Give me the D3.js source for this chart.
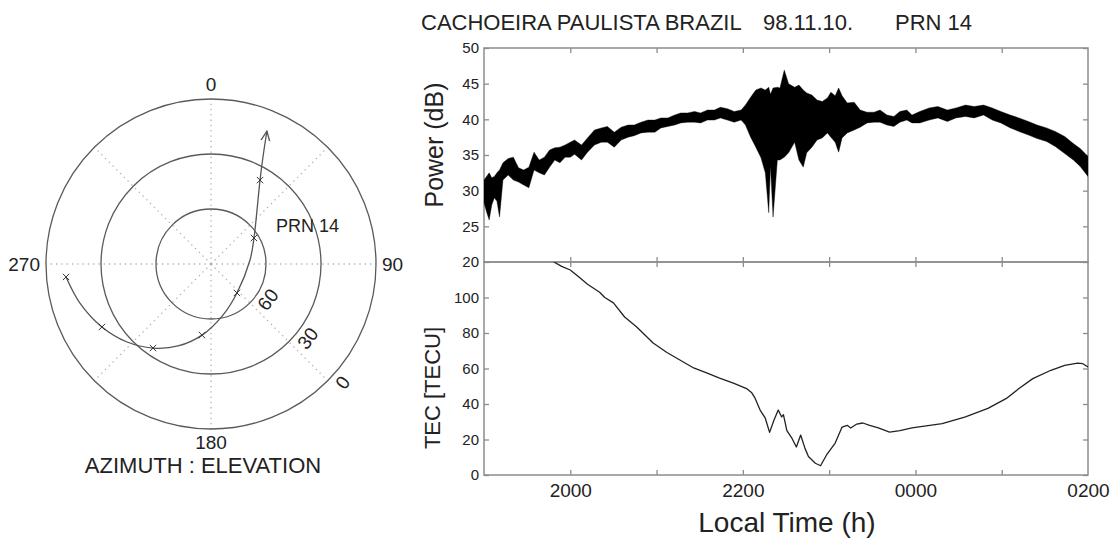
<!DOCTYPE html>
<html>
<head>
<meta charset="utf-8">
<script src="https://cdn.jsdelivr.net/npm/d3@7"></script>
<style>
  body { margin: 0; background: #fff; }
  svg { display: block; font-family: "Liberation Sans", Arial, sans-serif; }
</style>
</head>
<body>
<svg id="chart" width="1110" height="541"></svg>
<script>
// ---- sky plot (azimuth / elevation, degrees) ----
const trackAz = [264.9, 253.4, 240.0, 227.1, 214.6, 201.9, 187.2, 166.8, 138.1, 84.1, 58.8, 30.3, 25.9, 22.8];
const trackEl = [10.6, 15.4, 21.3, 27.5, 34.3, 41.8, 50.9, 61.4, 68.8, 68.6, 62.6, 37.0, 25.1, 11.3];
const markAz = [264.9, 240.0, 214.6, 187.2, 138.1, 58.8, 30.3];
const markEl = [10.6, 21.3, 34.3, 50.9, 68.8, 62.6, 37.0];
const elevRings = [60, 30, 0];
const elevLabelAz = [122, 127.5, 132];
const azLabels = ["0", "90", "180", "270"];
const azLabelAngles = [0, 90, 180, 270];

// ---- scintillation power: envelope of the trace (local time in hours, dB) ----
const powerTime = [19.00, 19.03, 19.06, 19.09, 19.12, 19.15, 19.18, 19.22, 19.28, 19.34, 19.40, 19.46, 19.52, 19.58, 19.64, 19.70, 19.76, 19.82, 19.88, 19.94,
  20.00, 20.05, 20.13, 20.20, 20.28, 20.36, 20.43, 20.51, 20.59, 20.67, 20.74, 20.82, 20.90, 20.98, 21.05, 21.13, 21.21, 21.28, 21.36, 21.44,
  21.51, 21.59, 21.67, 21.74, 21.82, 21.90, 21.98, 22.03, 22.09, 22.15, 22.21, 22.26, 22.30, 22.32, 22.35, 22.40, 22.43, 22.48, 22.53, 22.60,
  22.65, 22.70, 22.74, 22.80, 22.86, 22.92, 22.98, 23.02, 23.07, 23.11, 23.15, 23.21, 23.29, 23.36, 23.44, 23.52, 23.59, 23.67, 23.75, 23.82,
  23.90, 23.96, 24.05, 24.16, 24.26, 24.37, 24.47, 24.58, 24.68, 24.79, 24.89, 24.99, 25.10, 25.20, 25.31, 25.41, 25.52, 25.62, 25.73, 25.83,
  25.91, 26.00];
const powerLow = [28.3, 27.0, 25.9, 28.0, 29.0, 28.5, 26.3, 31.5, 32.2, 31.5, 31.2, 30.8, 30.4, 32.9, 32.5, 32.2, 33.3, 34.3, 33.9, 34.7,
  34.7, 35.1, 34.3, 35.4, 36.4, 36.8, 36.8, 36.1, 37.1, 37.5, 37.7, 38.1, 38.2, 38.2, 38.8, 39.0, 39.2, 39.5, 39.6, 39.6,
  39.5, 39.9, 39.9, 40.2, 39.9, 39.6, 39.9, 39.2, 37.5, 36.1, 34.6, 32.5, 26.9, 33.5, 26.3, 34.3, 34.3, 34.7, 35.3, 36.8,
  34.3, 33.3, 35.3, 36.1, 37.1, 37.4, 38.1, 37.5, 36.8, 35.4, 37.4, 38.1, 38.5, 38.9, 39.5, 39.6, 39.6, 39.2, 39.0, 39.6,
  39.9, 39.5, 39.5, 39.9, 40.2, 39.7, 40.2, 40.4, 40.2, 40.6, 39.9, 39.5, 38.8, 38.3, 37.8, 37.3, 36.9, 36.2, 35.2, 34.3,
  33.4, 32.0];
const powerHigh = [31.5, 32.0, 32.5, 31.8, 32.0, 32.5, 32.9, 33.9, 34.5, 34.7, 33.2, 32.9, 33.3, 35.4, 34.3, 34.7, 35.7, 36.0, 36.1, 36.4,
  36.8, 37.1, 36.4, 37.4, 38.5, 38.8, 39.0, 38.2, 38.9, 39.2, 39.2, 39.6, 39.9, 39.9, 40.2, 40.2, 40.6, 40.9, 40.9, 41.1,
  40.9, 41.3, 41.3, 41.7, 41.5, 41.1, 41.3, 42.0, 43.1, 44.1, 44.4, 44.1, 44.5, 43.5, 44.4, 44.5, 44.4, 46.9, 45.0, 44.5,
  44.8, 44.1, 43.7, 43.4, 42.7, 42.5, 43.0, 43.8, 43.3, 44.4, 43.3, 42.3, 42.4, 41.3, 41.0, 41.0, 41.3, 40.6, 40.4, 41.1,
  41.3, 40.6, 41.1, 41.6, 41.8, 41.3, 41.6, 42.0, 41.8, 42.0, 41.6, 41.1, 40.6, 40.2, 39.7, 39.2, 38.8, 38.3, 37.6, 36.6,
  35.9, 34.8];

// ---- TEC (local time in hours, TECU) ----
const tecTime = [19.81, 19.90, 20.00, 20.10, 20.20, 20.34, 20.40, 20.50, 20.63, 20.77, 20.96, 21.12, 21.27, 21.43, 21.58, 21.73, 21.89, 22.05, 22.10, 22.14,
  22.20, 22.26, 22.31, 22.36, 22.41, 22.45, 22.47, 22.51, 22.57, 22.62, 22.67, 22.72, 22.76, 22.84, 22.90, 22.97, 23.07, 23.15, 23.21, 23.25,
  23.32, 23.39, 23.47, 23.57, 23.70, 23.82, 23.96, 24.31, 24.58, 24.84, 25.05, 25.20, 25.36, 25.57, 25.73, 25.88, 25.94, 26.00];
const tecValue = [120, 117.5, 115.5, 111.5, 107.5, 103, 100, 97, 89, 83.4, 74.4, 69, 64.8, 60.3, 57.5, 54.6, 51.8, 48.5, 46.5, 43.4,
  36.6, 32, 24, 30.8, 36.6, 32.7, 34, 25, 20.6, 15.8, 22.5, 15, 10.4, 6.6, 5.2, 11.3, 18, 27, 28, 26.5,
  28.7, 29.3, 28, 26.5, 24.2, 25, 26.5, 29, 32.8, 37.5, 43, 48.7, 54.3, 59, 61.8, 63, 62.7, 60.8];

const hourTicks = [20, 21, 22, 23, 24, 25, 26];
const powerTicks = [20, 25, 30, 35, 40, 45, 50];
const tecTicks = [0, 20, 40, 60, 80, 100];

const svg = d3.select("#chart");
const axisGrey = "#8c8c8c";
const defs = svg.append("defs");

// ================= sky plot =================
const cx = 211, cy = 264, R = 165;
const rScale = d3.scaleLinear().domain([90, 0]).range([0, R]);
const rad = d => d * Math.PI / 180;
const polar = svg.append("g").attr("transform", `translate(${cx},${cy})`);

// dotted spokes
polar.selectAll(".spoke")
  .data(d3.range(0, 360, 45))
  .join("line")
  .attr("class", "spoke")
  .attr("x1", 0).attr("y1", 0)
  .attr("x2", d => rScale(0) * Math.sin(rad(d)))
  .attr("y2", d => -rScale(0) * Math.cos(rad(d)))
  .attr("stroke", "#b0b0b0")
  .attr("stroke-width", 1.3)
  .attr("stroke-dasharray", "1.3,4");

polar.selectAll(".ring")
  .data(elevRings)
  .join("circle")
  .attr("class", "ring")
  .attr("r", d => rScale(d))
  .attr("fill", "none")
  .attr("stroke", "#5a5a5a")
  .attr("stroke-width", 1.3);

// azimuth labels
const azAnchor = ["middle", "start", "middle", "end"];
const azPad = [8, 6, 20, 6];
const azDy = [0, 7, 0, 7];
polar.selectAll(".azlab")
  .data(azLabels)
  .join("text")
  .attr("class", "azlab")
  .attr("font-size", 19)
  .attr("fill", "#222")
  .attr("text-anchor", (d, i) => azAnchor[i])
  .attr("x", (d, i) => (rScale(0) + azPad[i]) * Math.sin(rad(azLabelAngles[i])))
  .attr("y", (d, i) => -(rScale(0) + azPad[i]) * Math.cos(rad(azLabelAngles[i])) + azDy[i])
  .text(d => d);

// elevation labels, tilted along the rings
polar.selectAll(".ellab")
  .data(elevRings)
  .join("text")
  .attr("class", "ellab")
  .attr("font-size", 19)
  .attr("fill", "#222")
  .attr("text-anchor", "middle")
  .attr("dy", "0.35em")
  .attr("transform", (d, i) => {
    const r = rScale(d) + 12;
    const a = rad(elevLabelAz[i]);
    return `translate(${r * Math.sin(a)},${-r * Math.cos(a)}) rotate(-53)`;
  })
  .text(d => d);

// arrow head
defs.append("marker")
  .attr("id", "arrow")
  .attr("viewBox", "0 0 10 10")
  .attr("refX", 9).attr("refY", 5)
  .attr("markerWidth", 11).attr("markerHeight", 11)
  .attr("markerUnits", "userSpaceOnUse")
  .attr("orient", "auto")
  .append("path")
  .attr("d", "M0,1 L9,5 L0,9")
  .attr("fill", "none")
  .attr("stroke", "#555")
  .attr("stroke-width", 1.2);

const track = trackAz.map((a, i) => [a, trackEl[i]]);
polar.append("path")
  .datum(track)
  .attr("d", d3.lineRadial()
    .angle(d => rad(d[0]))
    .radius(d => rScale(d[1]))
    .curve(d3.curveCatmullRom.alpha(0.5)))
  .attr("fill", "none")
  .attr("stroke", "#555")
  .attr("stroke-width", 1.3)
  .attr("marker-end", "url(#arrow)");

polar.selectAll(".mark")
  .data(markAz.map((a, i) => [a, markEl[i]]))
  .join("path")
  .attr("class", "mark")
  .attr("d", d3.symbol(d3.symbolX, 28))
  .attr("transform", d => `translate(${rScale(d[1]) * Math.sin(rad(d[0]))},${-rScale(d[1]) * Math.cos(rad(d[0]))})`)
  .attr("fill", "none")
  .attr("stroke", "#333")
  .attr("stroke-width", 1);

svg.append("text")
  .attr("x", 276).attr("y", 232)
  .attr("font-size", 18)
  .attr("fill", "#222")
  .text("PRN 14");

svg.append("text")
  .attr("x", 203).attr("y", 473)
  .attr("text-anchor", "middle")
  .attr("font-size", 22)
  .attr("fill", "#222")
  .text("AZIMUTH : ELEVATION");

// ================= time series panels =================
const pLeft = 484, pRight = 1088, pTop = 48, pMid = 262, pBottom = 475;
const x = d3.scaleLinear().domain([19, 26]).range([pLeft, pRight]);
const yPow = d3.scaleLinear().domain([20, 50]).range([pMid, pTop]);
const yTec = d3.scaleLinear().domain([0, 120]).range([pBottom, pMid]);

defs.append("clipPath").attr("id", "clipPow")
  .append("rect").attr("x", pLeft).attr("y", pTop).attr("width", pRight - pLeft).attr("height", pMid - pTop);
defs.append("clipPath").attr("id", "clipTec")
  .append("rect").attr("x", pLeft).attr("y", pMid).attr("width", pRight - pLeft).attr("height", pBottom - pMid);

const hourLabel = h => (h % 2 ? "" : String(h % 24).padStart(2, "0") + "00");

function styleAxis(g) {
  g.select(".domain").remove();
  g.selectAll(".tick line").attr("stroke", axisGrey).attr("stroke-width", 1.3);
  g.selectAll(".tick text").attr("fill", "#222");
}

function panel(y, ticks, yTop, yBot, showHours) {
  svg.append("g").attr("transform", `translate(${pLeft},0)`)
    .call(d3.axisLeft(y).tickValues(ticks).tickSize(-5).tickPadding(5))
    .attr("font-size", 15).attr("font-family", null)
    .call(styleAxis);
  svg.append("g").attr("transform", `translate(${pRight},0)`)
    .call(d3.axisRight(y).tickValues(ticks).tickSize(-5).tickFormat(""))
    .call(styleAxis);
  svg.append("g").attr("transform", `translate(0,${yTop})`)
    .call(d3.axisTop(x).tickValues(hourTicks.slice(0, -1)).tickSize(-5).tickFormat(""))
    .call(styleAxis);
  const b = svg.append("g").attr("transform", `translate(0,${yBot})`)
    .call(d3.axisBottom(x).tickValues(hourTicks).tickSize(-5).tickPadding(9)
      .tickFormat(showHours ? hourLabel : ""))
    .attr("font-size", 19).attr("font-family", null)
    .call(styleAxis);
  b.selectAll(".tick line").filter(d => d === 26).remove();
  svg.append("rect")
    .attr("x", pLeft).attr("y", yTop)
    .attr("width", pRight - pLeft).attr("height", yBot - yTop)
    .attr("fill", "none")
    .attr("stroke", axisGrey)
    .attr("stroke-width", 1.5);
}

panel(yPow, powerTicks, pTop, pMid, false);
panel(yTec, tecTicks, pMid, pBottom, true);

// power trace band
const powRows = powerTime.map((t, i) => ({ t, lo: powerLow[i], hi: powerHigh[i] }));
svg.append("path")
  .datum(powRows)
  .attr("clip-path", "url(#clipPow)")
  .attr("d", d3.area().x(d => x(d.t)).y0(d => yPow(d.lo)).y1(d => yPow(d.hi)))
  .attr("fill", "#000")
  .attr("stroke", "#000")
  .attr("stroke-width", 0.4)
  .attr("stroke-linejoin", "round");

// TEC line
svg.append("path")
  .datum(tecTime.map((t, i) => [t, tecValue[i]]))
  .attr("clip-path", "url(#clipTec)")
  .attr("d", d3.line().x(d => x(d[0])).y(d => yTec(d[1])))
  .attr("fill", "none")
  .attr("stroke", "#222")
  .attr("stroke-width", 1.3)
  .attr("stroke-linejoin", "round");

// titles
svg.append("g").attr("font-size", 22).attr("fill", "#222")
  .selectAll("text")
  .data([["CACHOEIRA PAULISTA BRAZIL", 421], ["98.11.10.", 763], ["PRN 14", 895]])
  .join("text")
  .attr("x", d => d[1]).attr("y", 30)
  .text(d => d[0]);

svg.append("text")
  .attr("transform", `translate(443,145) rotate(-90)`)
  .attr("text-anchor", "middle")
  .attr("font-size", 25)
  .attr("fill", "#222")
  .text("Power (dB)");

svg.append("text")
  .attr("transform", `translate(440,388) rotate(-90)`)
  .attr("text-anchor", "middle")
  .attr("font-size", 22)
  .attr("fill", "#222")
  .text("TEC [TECU]");

svg.append("text")
  .attr("x", (pLeft + pRight) / 2 + 1).attr("y", 532)
  .attr("text-anchor", "middle")
  .attr("font-size", 28)
  .attr("fill", "#222")
  .text("Local Time (h)");
</script>
</body>
</html>
